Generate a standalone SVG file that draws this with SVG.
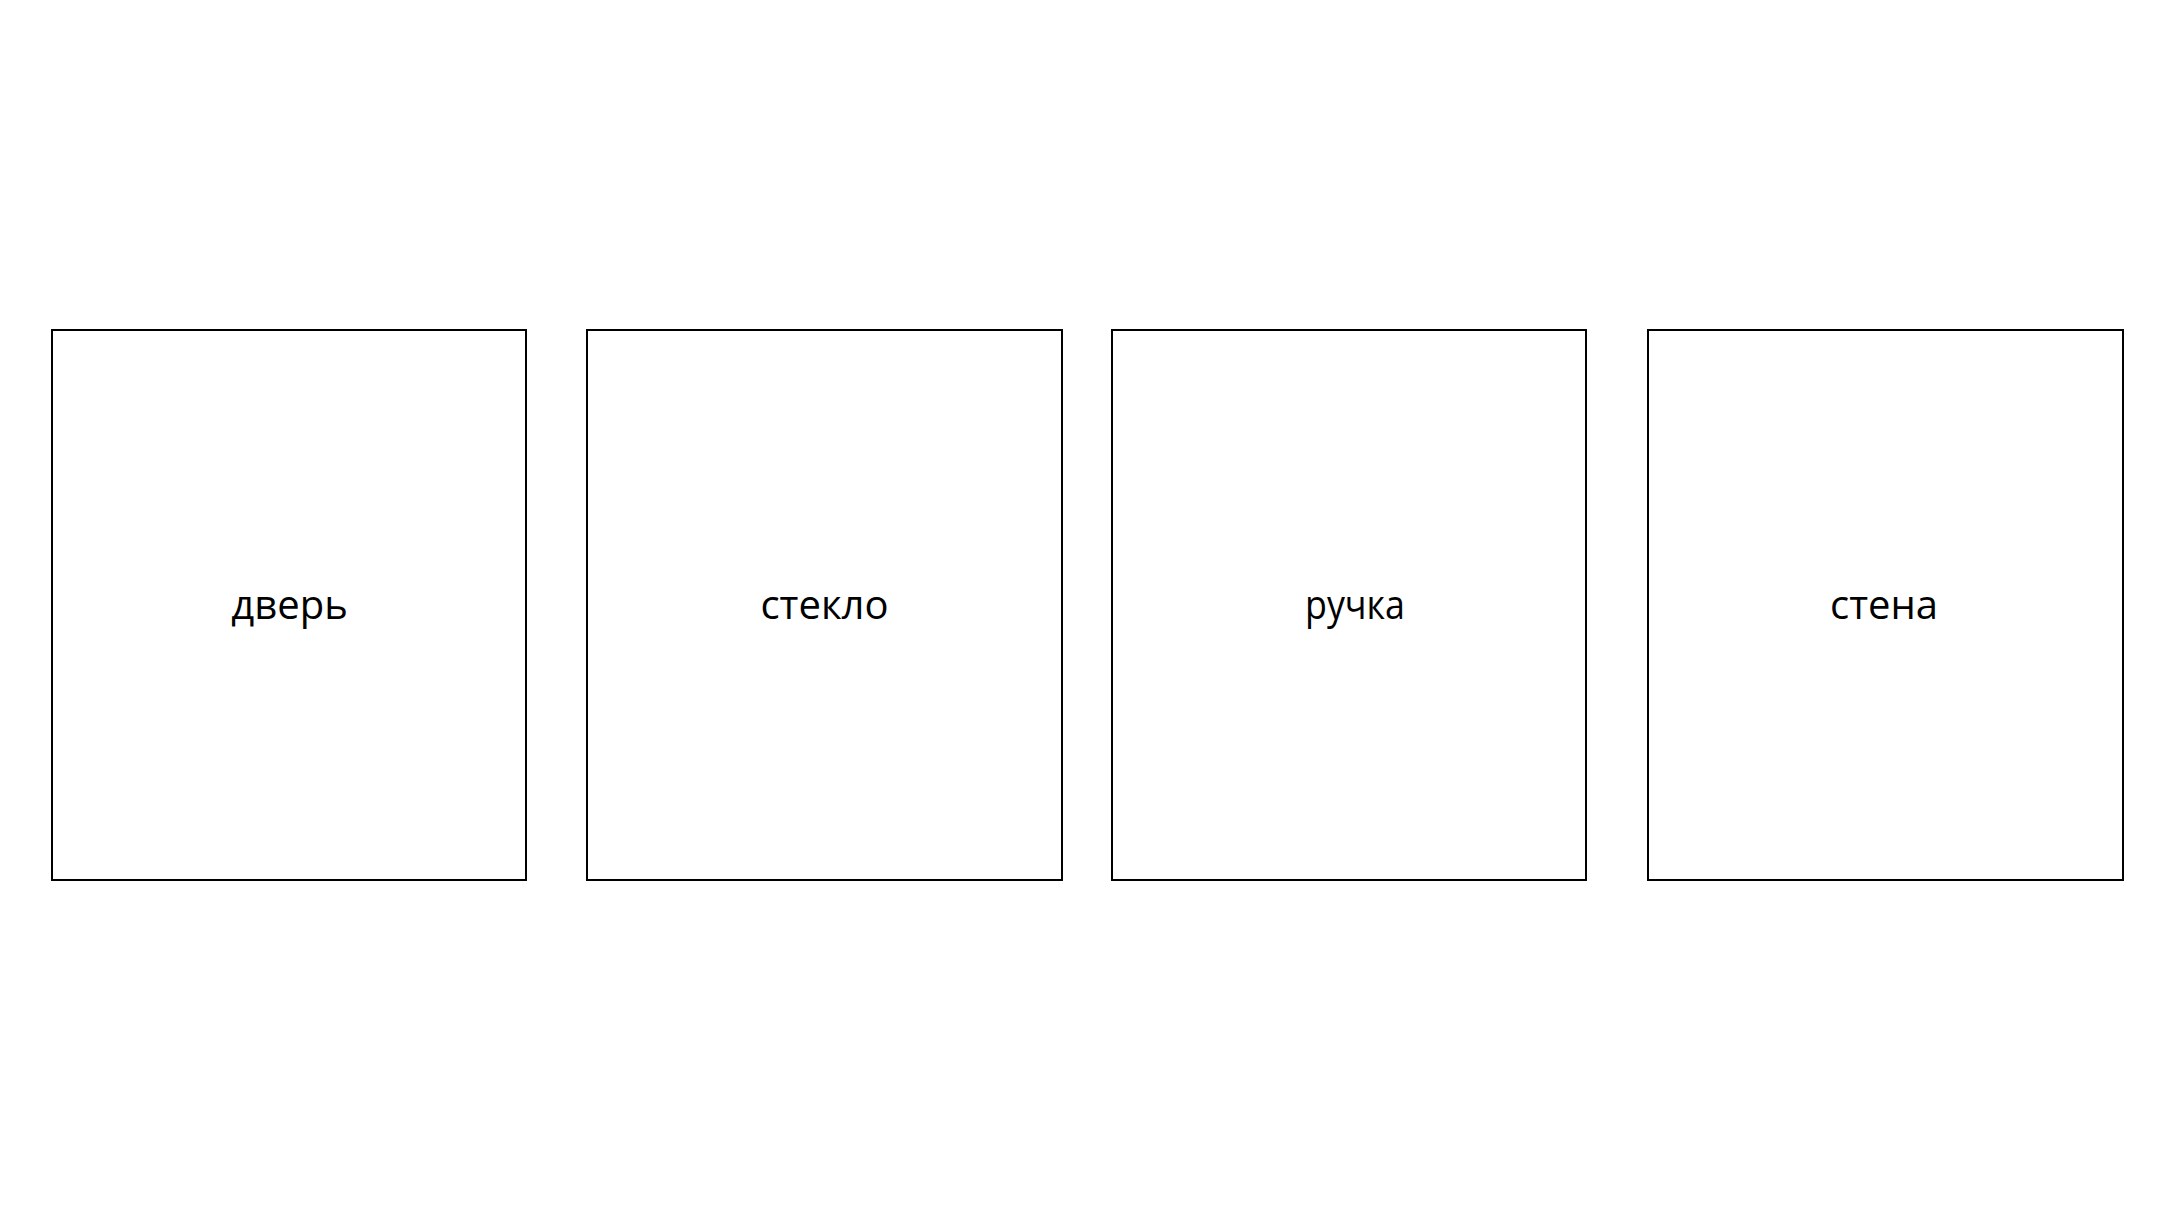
<svg xmlns="http://www.w3.org/2000/svg" width="2178" height="1218" viewBox="0 0 2178 1218">
<style>
.box{fill:#fff;stroke:#000;stroke-width:2}
.lbl{font-family:"Open Sans","Noto Sans",sans-serif;font-size:40px;fill:#000;text-anchor:middle}
</style>
<rect width="2178" height="1218" fill="#fff"/>
<g id="connectors"/>
<g id="node-dver"><rect class="box" x="52" y="330" width="474" height="550"/><text class="lbl" x="289.5" y="619">дверь</text></g>
<g id="node-steklo"><rect class="box" x="587" y="330" width="475" height="550"/><text class="lbl" x="824.5" y="619">стекло</text></g>
<g id="node-ruchka"><rect class="box" x="1112" y="330" width="474" height="550"/><text class="lbl" x="1355" y="619" textLength="100" lengthAdjust="spacingAndGlyphs">ручка</text></g>
<g id="node-stena"><rect class="box" x="1648" y="330" width="475" height="550"/><text class="lbl" x="1884" y="619">стена</text></g>
</svg>
